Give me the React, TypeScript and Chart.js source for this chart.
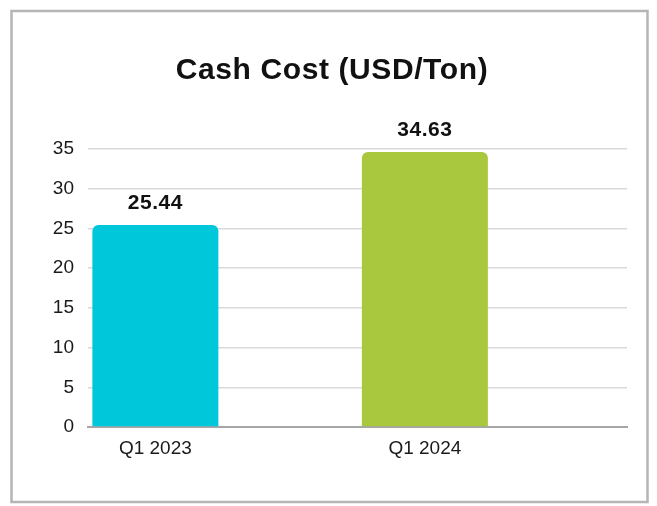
import React, { useEffect, useRef } from "react";
import { Chart, registerables } from "chart.js";

Chart.register(...registerables);

const TITLE = "Cash Cost (USD/Ton)";
const categories = ["Q1 2023", "", "Q1 2024", ""];
const cashCost: (number | null)[] = [25.44, null, 34.63, null];
const barColors = ["#00C8DA", "rgba(0,0,0,0)", "#AAC83D", "rgba(0,0,0,0)"];
const yMin = 0;
const yMax = 35;
const yStep = 5;

const FONT = "'Liberation Sans', Arial, sans-serif";

const framePlugin = {
  id: "frame",
  beforeDraw(chart: any) {
    const ctx = chart.ctx;
    ctx.save();
    ctx.fillStyle = "#ffffff";
    ctx.fillRect(0, 0, chart.width, chart.height);
    ctx.strokeStyle = "#b5b5b5";
    ctx.lineWidth = 2.5;
    ctx.strokeRect(11.5, 11, 636, 491);
    ctx.restore();
  },
};

const titlePlugin = {
  id: "customTitle",
  afterDraw(chart: any) {
    const ctx = chart.ctx;
    ctx.save();
    ctx.font = `bold 30px ${FONT}`;
    try {
      (ctx as any).letterSpacing = "0.6px";
    } catch (e) {}
    ctx.fillStyle = "#111111";
    ctx.textAlign = "center";
    ctx.textBaseline = "alphabetic";
    ctx.fillText(TITLE, 332, 79);
    ctx.restore();
  },
};

const valueLabelPlugin = {
  id: "valueLabels",
  afterDatasetsDraw(chart: any) {
    const ctx = chart.ctx;
    const meta = chart.getDatasetMeta(0);
    const data = chart.data.datasets[0].data;
    ctx.save();
    ctx.font = `bold 21px ${FONT}`;
    try {
      (ctx as any).letterSpacing = "0.5px";
    } catch (e) {}
    ctx.fillStyle = "#111111";
    ctx.textAlign = "center";
    ctx.textBaseline = "alphabetic";
    meta.data.forEach((el: any, i: number) => {
      const v = data[i];
      if (v === null || v === undefined) return;
      ctx.fillText(Number(v).toFixed(2), el.x, el.y - 16);
    });
    ctx.restore();
  },
};

export default function App() {
  const canvasRef = useRef<HTMLCanvasElement | null>(null);

  useEffect(() => {
    if (!canvasRef.current) return;
    const chart = new Chart(canvasRef.current, {
      type: "bar",
      data: {
        labels: categories,
        datasets: [
          {
            data: cashCost,
            backgroundColor: barColors,
            borderRadius: 6,
            borderSkipped: "bottom",
            categoryPercentage: 1,
            barPercentage: 0.935,
          },
        ],
      },
      options: {
        animation: false,
        responsive: false,
        maintainAspectRatio: false,
        layout: { padding: { left: 28, right: 30, top: 149, bottom: 39 } },
        plugins: {
          legend: { display: false },
          title: { display: false },
          tooltip: { enabled: false },
        },
        scales: {
          x: {
            grid: { display: false, drawTicks: false },
            border: { display: true, color: "#a6a6a6", width: 2 },
            ticks: {
              font: { family: FONT, size: 19 },
              color: "#1a1a1a",
              padding: 10,
              maxRotation: 0,
              autoSkip: false,
            },
            afterFit: (scale: any) => {
              scale.height = 40;
            },
          },
          y: {
            min: yMin,
            max: yMax,
            grid: { color: "#d9d9d9", lineWidth: 1.5, drawTicks: false },
            border: { display: false },
            ticks: {
              stepSize: yStep,
              font: { family: FONT, size: 19 },
              color: "#1a1a1a",
              padding: 14,
            },
            afterFit: (scale: any) => {
              scale.width = 60;
            },
          },
        },
      },
      plugins: [framePlugin, titlePlugin, valueLabelPlugin],
    });
    return () => chart.destroy();
  }, []);

  return (
    <div style={{ position: "absolute", left: 0, top: 0, width: 657, height: 506 }}>
      <canvas ref={canvasRef} width={657} height={506} style={{ display: "block" }} />
    </div>
  );
}
